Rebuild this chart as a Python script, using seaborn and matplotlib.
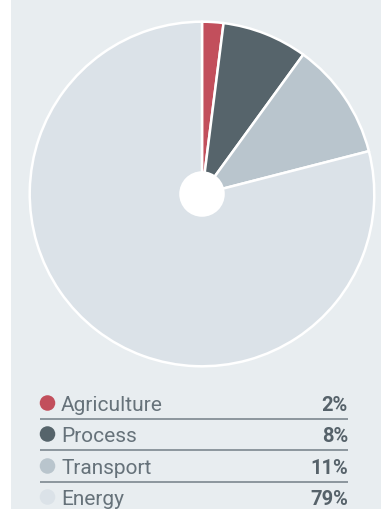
import matplotlib
matplotlib.use("Agg")
import matplotlib.pyplot as plt
from matplotlib.patches import Rectangle, Circle
import seaborn as sns
import pandas as pd

# Emission shares by sector
sectors = ["Agriculture", "Process", "Transport", "Energy"]
shares = [2, 8, 11, 79]
share_labels = ["2%", "8%", "11%", "79%"]
sector_colors = ["#c24f5c", "#56646b", "#b9c5cd", "#dbe2e8"]

sns.set_theme(style="white")
plt.rcParams["font.family"] = ["Roboto", "DejaVu Sans"]

W, H, DPI = 381, 510, 100
fig = plt.figure(figsize=(W / DPI, H / DPI), dpi=DPI, facecolor="white")

# Background canvas in pixel coordinates
bg = fig.add_axes([0, 0, 1, 1], zorder=0)
bg.set_xlim(0, W)
bg.set_ylim(H, 0)
bg.axis("off")
bg.add_patch(Rectangle((11, 0), W - 11, H, facecolor="#e8edf0", edgecolor="none", zorder=0))

# Legend rows
row_y = [404, 435, 467, 498]
legend_df = pd.DataFrame({"sector": sectors, "x": [47.5] * 4, "y": row_y})
sns.scatterplot(data=legend_df, x="x", y="y", hue="sector", palette=sector_colors,
                hue_order=sectors, s=125, edgecolor="none", legend=False, ax=bg, zorder=3)
bg.set_xlim(0, W)
bg.set_ylim(H, 0)
bg.axis("off")

text_color = "#66727a"
for y, name, lab in zip(row_y, sectors, share_labels):
    bg.text(61, y + 7, name, fontsize=15, fontweight="normal", color=text_color,
            ha="left", va="baseline", zorder=4)
    bg.text(348, y + 7, lab, fontsize=14.5, fontweight="bold", color="#56626a",
            ha="right", va="baseline", zorder=4)

for y in [419.5, 451, 483]:
    bg.plot([40, 348], [y, y], color="#7d888f", lw=1.2, solid_capstyle="butt", zorder=2)

# Pie chart, drawn clockwise from twelve o'clock
cx, cy, r = 202, 195, 174
ax = fig.add_axes([(cx - r) / W, (H - cy - r) / H, 2 * r / W, 2 * r / H], zorder=1)
ax.pie(shares, colors=sector_colors, startangle=90, counterclock=False,
       wedgeprops=dict(edgecolor="white", linewidth=1.8))
ax.add_patch(Circle((0, 0), 23 / r, facecolor="white", edgecolor="none", zorder=5))
ax.set_xlim(-1.01, 1.01)
ax.set_ylim(-1.01, 1.01)
ax.axis("off")

fig.savefig("out.png", dpi=DPI, facecolor="white")
